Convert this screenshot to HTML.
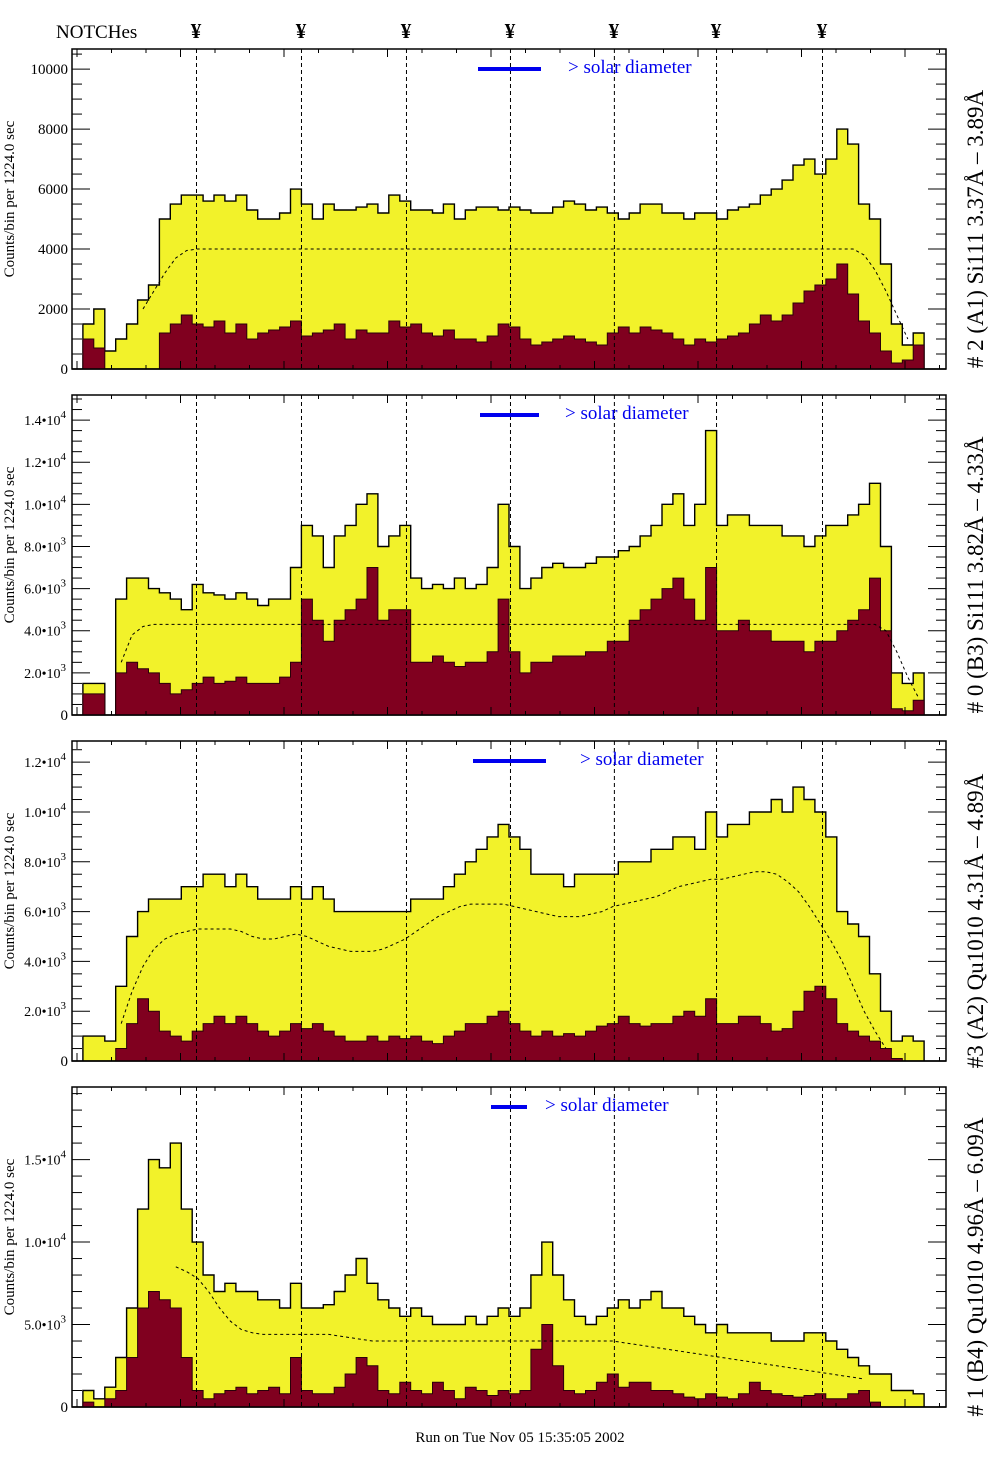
<!DOCTYPE html>
<html><head><meta charset="utf-8"><style>
html,body{margin:0;padding:0;background:#fff;}
svg{display:block;font-family:"Liberation Serif",serif;}
</style></head><body>
<svg id="chart" width="1004" height="1476" viewBox="0 0 1004 1476" xmlns="http://www.w3.org/2000/svg">
<text x="56" y="38" font-size="19">NOTCHes</text>
<text x="520" y="1442" font-size="15" text-anchor="middle">Run on Tue Nov 05 15:35:05 2002</text>
</svg>
<script>
// ---- data (counts per bin) ----
const notchPositions = [11.35, 20.96, 30.57, 40.09, 49.6, 58.95, 68.65]; // in bin units of the 80-bin axis
const p1Total = [0,1500,2000,600,1000,1500,2300,2800,5000,5500,5800,5800,5600,5800,5600,5800,5300,5000,5000,5200,6000,5500,5000,5500,5300,5300,5400,5500,5200,5800,5600,5300,5300,5200,5500,5000,5300,5400,5400,5300,5400,5300,5200,5200,5400,5600,5500,5300,5400,5200,5000,5200,5500,5500,5200,5200,5000,5200,5200,5000,5300,5400,5500,5800,6000,6300,6800,7000,6500,7000,8000,7500,5500,5000,3500,1500,800,1200,0,0];
const p1Sel = [0,1000,700,0,0,0,0,0,1200,1500,1800,1500,1400,1600,1200,1500,1000,1200,1300,1400,1600,1100,1200,1300,1500,1000,1300,1200,1200,1600,1400,1500,1200,1100,1300,1000,1000,900,1100,1500,1400,1000,800,900,1000,1100,1000,900,800,1200,1400,1200,1400,1300,1200,1000,800,1000,900,1000,1100,1200,1500,1800,1600,1800,2200,2600,2800,3000,3500,2500,1600,1200,600,200,300,800,0,0];
const p1Fit = [0,0,0,0,0,0,2000,2600,3200,3700,3950,4000,4000,4000,4000,4000,4000,4000,4000,4000,4000,4000,4000,4000,4000,4000,4000,4000,4000,4000,4000,4000,4000,4000,4000,4000,4000,4000,4000,4000,4000,4000,4000,4000,4000,4000,4000,4000,4000,4000,4000,4000,4000,4000,4000,4000,4000,4000,4000,4000,4000,4000,4000,4000,4000,4000,4000,4000,4000,4000,4000,4000,3800,3300,2600,1800,1000,0,0,0];

const p2Total = [0,1500,1500,0,5500,6500,6500,6000,5800,5500,5000,6200,5800,5700,5500,5800,5500,5200,5500,5500,7000,9000,8500,7000,8500,9000,10000,10500,8000,8500,9000,6500,6000,6200,6000,6500,6000,6200,7000,10000,8000,6000,6500,7000,7200,7000,7000,7200,7500,7500,7800,8000,8500,9000,10000,10500,9000,10000,13500,9000,9500,9500,9000,9000,9000,8500,8500,8000,8500,9000,9000,9500,10000,11000,8000,2000,1500,2000,0,0];
const p2Sel = [0,1000,1000,0,2000,2500,2200,2000,1500,1000,1200,1500,1800,1500,1600,1800,1500,1500,1500,1800,2500,5500,4500,3500,4500,5000,5500,7000,4500,5000,5000,2500,2500,2800,2500,2300,2500,2500,3000,5500,3000,2000,2500,2500,2800,2800,2800,3000,3000,3500,3500,4500,5000,5500,6000,6500,5500,4500,7000,4000,4000,4500,4000,4000,3500,3500,3500,3000,3500,3500,4000,4500,5000,6500,4000,300,200,700,0,0];
const p2Fit = [0,0,0,0,2500,3800,4200,4300,4300,4300,4300,4300,4300,4300,4300,4300,4300,4300,4300,4300,4300,4300,4300,4300,4300,4300,4300,4300,4300,4300,4300,4300,4300,4300,4300,4300,4300,4300,4300,4300,4300,4300,4300,4300,4300,4300,4300,4300,4300,4300,4300,4300,4300,4300,4300,4300,4300,4300,4300,4300,4300,4300,4300,4300,4300,4300,4300,4300,4300,4300,4300,4300,4300,4300,4000,3000,1800,800,0,0];

const p3Total = [0,1000,1000,800,3000,5000,6000,6500,6500,6500,7000,7000,7500,7500,7000,7500,7000,6500,6500,6500,7000,6500,7000,6500,6000,6000,6000,6000,6000,6000,6000,6500,6500,6500,7000,7500,8000,8500,9000,9500,9000,8500,7500,7500,7500,7000,7500,7500,7500,7500,8000,8000,8000,8500,8500,9000,9000,8500,10000,9000,9500,9500,10000,10000,10500,10000,11000,10500,10000,9000,6000,5500,5000,3500,2000,800,1000,800,0,0];
const p3Sel = [0,0,0,0,500,1500,2500,2000,1200,1000,800,1200,1500,1800,1500,1800,1500,1200,1000,1200,1500,1300,1500,1200,1000,800,800,1000,800,1000,900,1000,800,700,1000,1200,1500,1500,1800,2000,1500,1200,1000,1200,1000,1100,1000,1200,1400,1500,1800,1500,1400,1500,1500,1800,2000,1800,2500,1500,1500,1800,1800,1500,1200,1300,2000,2800,3000,2500,1500,1200,1000,800,500,100,0,0,0,0];
const p3Fit = [0,0,0,0,1500,2800,3800,4500,4900,5100,5200,5300,5300,5300,5300,5200,5000,4900,4900,5000,5100,5000,4800,4600,4500,4400,4400,4400,4500,4700,4900,5200,5500,5800,6000,6200,6300,6300,6300,6300,6200,6100,6000,5900,5800,5800,5800,5900,6000,6200,6300,6400,6500,6600,6800,7000,7100,7200,7300,7300,7400,7500,7600,7600,7500,7200,6800,6200,5500,4800,4000,3000,2000,1200,500,0,0,0,0,0];

const p4Total = [0,1000,500,1200,3000,6000,12000,15000,14500,16000,12000,10000,8000,7000,7500,7000,7000,6500,6500,6000,7500,6000,6000,6200,7000,8000,9000,7500,6500,6000,5500,6000,5500,5000,5000,5000,5500,5000,5500,6000,5500,6000,8000,10000,8000,6500,5500,5000,5500,6000,6500,6000,6500,7000,6000,6000,5500,5000,4500,5000,4500,4500,4500,4500,4000,4000,4000,4500,4500,4000,3500,3000,2500,2000,2000,1000,1000,800,0,0];
const p4Sel = [0,300,0,500,1000,3000,6000,7000,6500,6000,3000,1000,500,800,1000,1200,800,1000,1200,800,3000,1000,800,800,1200,2000,3000,2500,1000,800,1500,1000,800,1500,1000,500,1200,1000,700,1000,800,1000,3500,5000,2500,1000,800,1000,1500,2000,1200,1500,1500,1000,1000,800,600,500,800,600,500,800,1500,1000,800,700,600,700,800,500,500,800,1000,300,0,0,0,0,0,0];
const p4Fit = [0,0,0,0,0,0,0,0,0,8500,8200,7800,7000,6000,5200,4700,4500,4400,4400,4400,4400,4400,4400,4400,4300,4200,4100,4000,4000,4000,4000,4000,4000,4000,4000,4000,4000,4000,4000,4000,4000,4000,4000,4000,4000,4000,4000,4000,4000,4000,3900,3800,3700,3600,3500,3400,3300,3200,3100,3000,2900,2800,2700,2600,2500,2400,2300,2200,2100,2000,1900,1800,1700,0,0,0,0,0,0,0];

const p1Ticks = ["0","2000","4000","6000","8000","10000"];
const p2Ticks = ["0","2.0","4.0","6.0","8.0","1.0","1.2","1.4"];
const p3Ticks = ["0","2.0","4.0","6.0","8.0","1.0","1.2"];
const p4Ticks = ["0","5.0","1.0","1.5"];
const rightLabels = ["# 2 (A1) Si111  3.37Å \u2013 3.89Å","# 0 (B3) Si111  3.82Å \u2013 4.33Å","#3 (A2) Qu1010  4.31Å \u2013 4.89Å","# 1 (B4) Qu1010 4.96Å \u2013 6.09Å"];

const NS = "http://www.w3.org/2000/svg";
const svg = document.getElementById('chart');
const X0 = 72, X1 = 946, NB = 80;
function xScale(b){ return X0 + b * (X1 - X0) / NB; }
function mk(tag, attrs, parent){ const e = document.createElementNS(NS, tag); for (const k in attrs) e.setAttribute(k, attrs[k]); (parent||svg).appendChild(e); return e; }

const panels = [
 {top:49, total:p1Total, sel:p1Sel, fit:p1Fit, max:10670, ticks:p1Ticks, tickVals:[0,2000,4000,6000,8000,10000], exp:[null,null,null,null,null,null], minor:500, leg:[478,541,568]},
 {top:395, total:p2Total, sel:p2Sel, fit:p2Fit, max:15190, ticks:p2Ticks, tickVals:[0,2000,4000,6000,8000,10000,12000,14000], exp:[null,3,3,3,3,4,4,4], minor:500, leg:[480,539,565]},
 {top:741, total:p3Total, sel:p3Sel, fit:p3Fit, max:12850, ticks:p3Ticks, tickVals:[0,2000,4000,6000,8000,10000,12000], exp:[null,3,3,3,3,4,4], minor:500, leg:[473,546,580]},
 {top:1087, total:p4Total, sel:p4Sel, fit:p4Fit, max:19400, ticks:p4Ticks, tickVals:[0,5000,10000,15000], exp:[null,3,4,4], minor:1000, leg:[491,527,545]}
];
const H = 320;

panels.forEach((p, pi) => {
  const g = mk('g', {});
  
  
  const bottom = p.top + H;
  const yS = v => bottom - v / p.max * H;
  function stepPath(arr){
    let d = 'M' + xScale(0) + ',' + bottom;
    arr.forEach((v, i) => { d += ' V' + yS(v).toFixed(1) + ' H' + xScale(i+1).toFixed(1); });
    d += ' V' + bottom + ' Z';
    return d;
  }
  const yel = mk('path', {d: stepPath(p.total), fill:'#f2f22a', stroke:'#000', 'stroke-width':'1.4'}, g);
  
  
  const mar = mk('path', {d: stepPath(p.sel), fill:'#80001f', stroke:'#2a0008', 'stroke-width':'1'}, g);
  
  
  let pts = [];
  p.fit.forEach((v, i) => { if (v > 0) pts.push((xScale(i+0.5)).toFixed(1) + ',' + yS(v).toFixed(1)); });
  const fit = mk('polyline', {points: pts.join(' '), fill:'none', stroke:'#000', 'stroke-width':'1', 'stroke-dasharray':'3,3'}, g);
  
  
  notchPositions.forEach(n => {
    const l = mk('line', {x1: xScale(n)+0.5, x2: xScale(n)+0.5, y1: p.top, y2: bottom, stroke:'#000', 'stroke-width':'1', 'stroke-dasharray':'4,3'}, g);
    
    
  });
  const fr = mk('rect', {x: X0, y: p.top, width: X1 - X0, height: H, fill:'none', stroke:'#000', 'stroke-width':'1.5'}, g);
  
  
  for (let v = 0; v <= p.max; v += p.minor) {
    const major = p.tickVals.indexOf(v) >= 0;
    const y = yS(v);
    const len = major ? 18 : 10;
    mk('line', {x1: X0, x2: X0 + len, y1: y, y2: y, stroke:'#000', 'stroke-width':'1'}, g);
    mk('line', {x1: X1, x2: X1 - len, y1: y, y2: y, stroke:'#000', 'stroke-width':'1'}, g);
  }
  for (let k = 0; k <= 25; k++) {
    const x = X0 + 34.5 * k + 5;
    if (x > X1) break;
    const len = (k % 3 === 0) ? 8 : 4;
    mk('line', {x1: x, x2: x, y1: p.top, y2: p.top + len, stroke:'#000', 'stroke-width':'1'}, g);
    mk('line', {x1: x, x2: x, y1: bottom, y2: bottom - len, stroke:'#000', 'stroke-width':'1'}, g);
  }
  p.tickVals.forEach((v, i) => {
    const t = mk('text', {x: 68, y: yS(v) + 5, 'font-size':'15', 'text-anchor':'end'}, g);
    
    
    if (p.exp[i] === null) t.textContent = p.ticks[i];
    else {
      t.textContent = p.ticks[i] + '\u2022' + '10';
      const s = mk('tspan', {'font-size':'11', dy:'-7'}, t);
      s.textContent = String(p.exp[i]);
      t.setAttribute('x', 66);
      t.setAttribute('font-size', '14');
    }
  });
  const yt = mk('text', {x: 0, y: 0, 'font-size':'15', 'text-anchor':'middle', transform:'translate(14,' + (p.top + 150) + ') rotate(-90)'}, g);
  
  
  yt.textContent = 'Counts/bin per   1224.0 sec';
  const rt = mk('text', {x: 0, y: 0, 'font-size':'23', 'text-anchor':'middle', transform:'translate(983,' + (p.top + 180) + ') rotate(-90)'}, g);
  
  
  rt.textContent = rightLabels[pi];
  const ll = mk('line', {x1: p.leg[0], x2: p.leg[1], y1: p.top + 20, y2: p.top + 20, stroke:'#0000ee', 'stroke-width':'4'}, g);
  
  
  const lt = mk('text', {x: p.leg[2], y: p.top + 24, 'font-size':'19', fill:'#0000ee'}, g);
  
  
  lt.textContent = '> solar diameter';
});

notchPositions.forEach(n => {
  const t = mk('text', {x: xScale(n), y: 38, 'font-size':'21', 'text-anchor':'middle', 'font-weight':'bold'});
  
  
  t.textContent = '\u00a5';
});
</script>
</body></html>
